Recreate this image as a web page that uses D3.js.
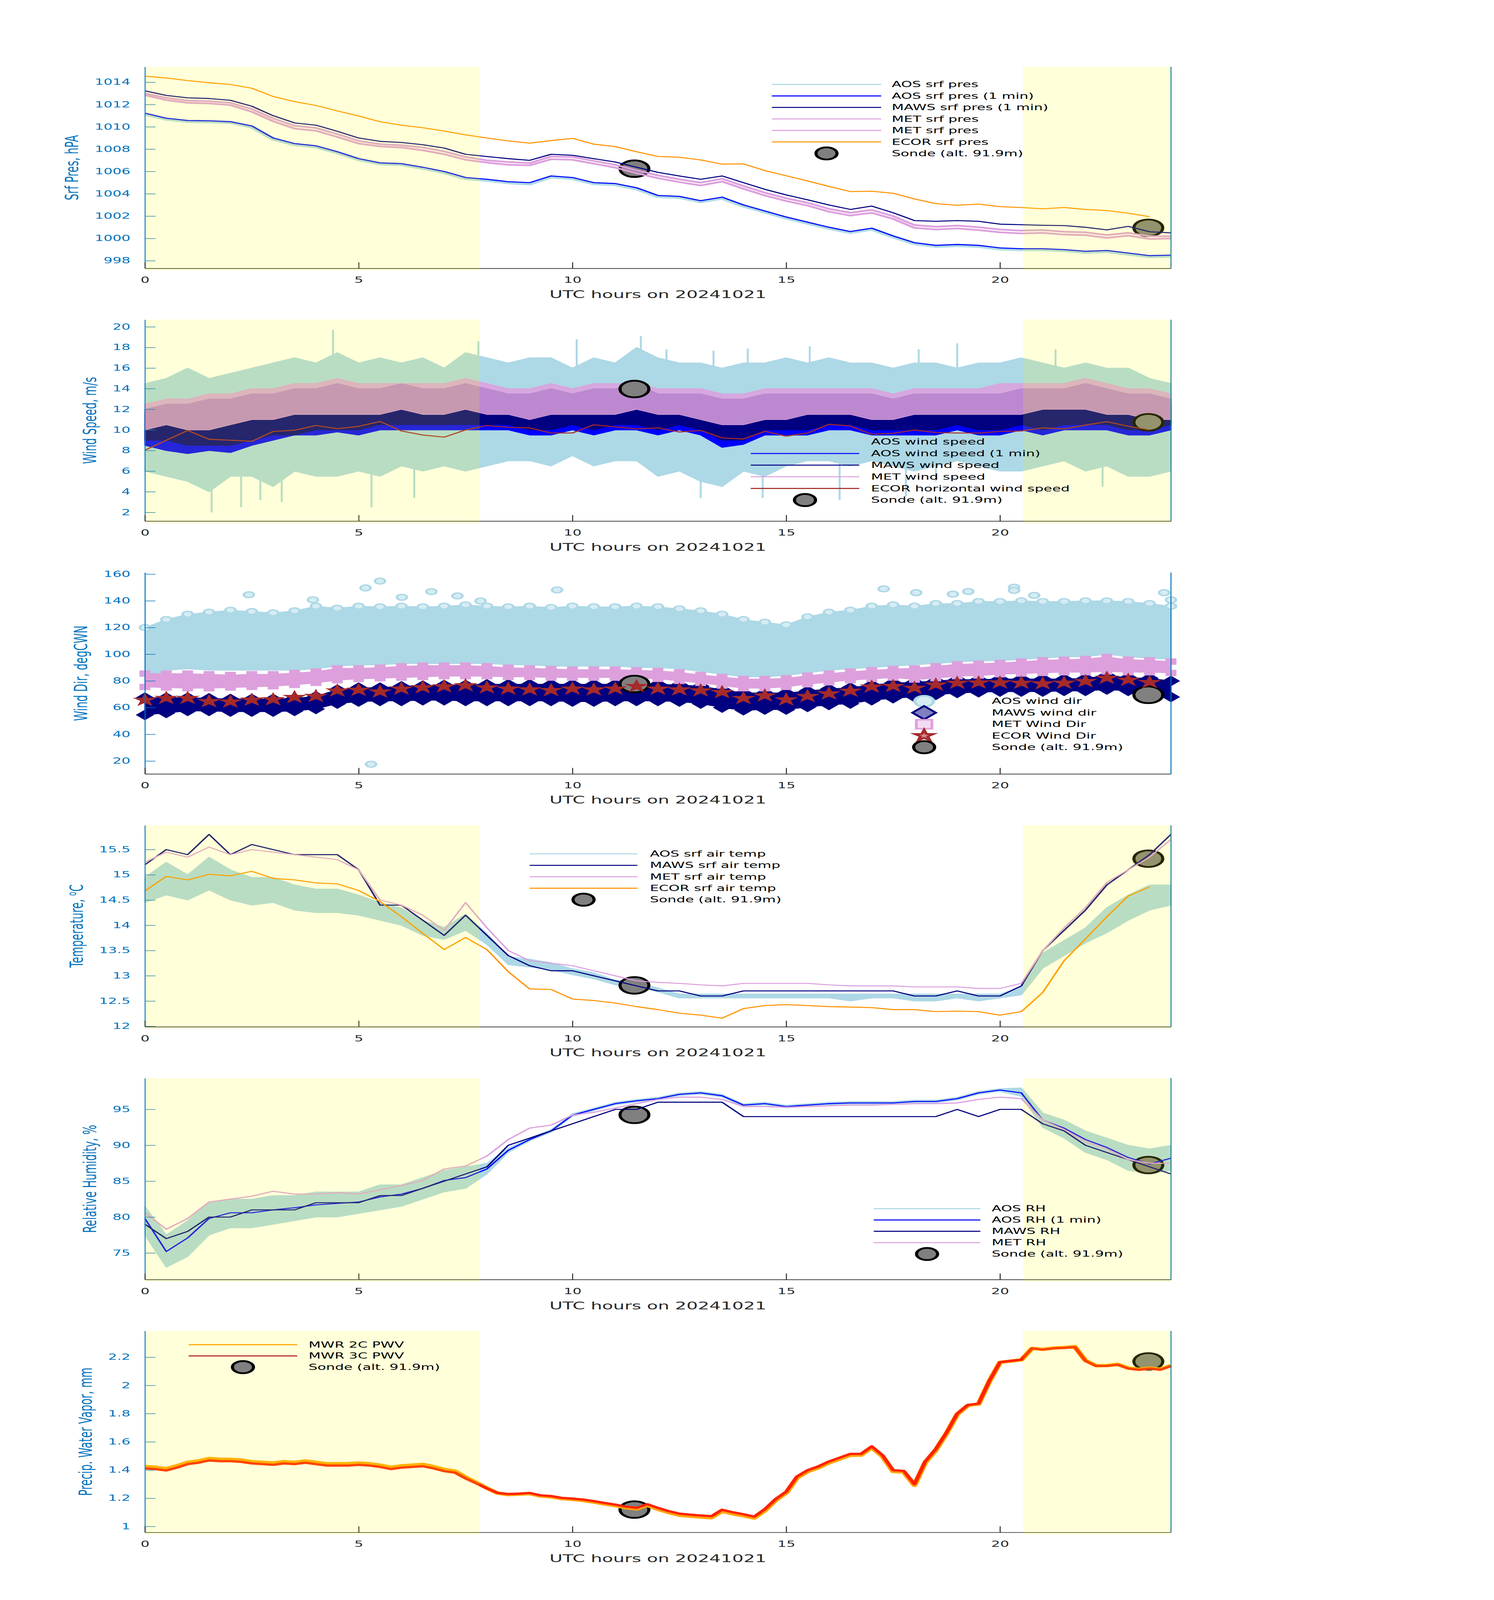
<!DOCTYPE html>
<html>
<head>
<meta charset="utf-8">
<title>Surface met 20241021</title>
<script src="https://cdn.jsdelivr.net/npm/d3@7"></script>
<style>
  html, body { margin: 0; padding: 0; background: #ffffff; overflow: hidden; }
  svg { display: block; }
  text { font-family: "DejaVu Sans", sans-serif; }
</style>
</head>
<body>
<div id="chart"></div>
<script>
// time grid of the readings, UTC hours (half-hour steps)
var hours = [0,0.5,1,1.5,2,2.5,3,3.5,4,4.5,5,5.5,6,6.5,7,7.5,8,8.5,9,9.5,10,10.5,11,11.5,12,
             12.5,13,13.5,14,14.5,15,15.5,16,16.5,17,17.5,18,18.5,19,19.5,20,20.5,21,21.5,22,22.5,23,23.5,24];
// finer grid for the microwave radiometer (quarter-hour steps)
var quarterHours = [0,0.25,0.5,0.75,1,1.25,1.5,1.75,2,2.25,2.5,2.75,3,3.25,3.5,3.75,4,4.25,4.5,4.75,
  5,5.25,5.5,5.75,6,6.25,6.5,6.75,7,7.25,7.5,7.75,8,8.25,8.5,8.75,9,9.25,9.5,9.75,
  10,10.25,10.5,10.75,11,11.25,11.5,11.75,12,12.25,12.5,12.75,13,13.25,13.5,13.75,14,14.25,14.5,14.75,
  15,15.25,15.5,15.75,16,16.25,16.5,16.75,17,17.25,17.5,17.75,18,18.25,18.5,18.75,19,19.25,19.5,19.75,
  20,20.25,20.5,20.75,21,21.25,21.5,21.75,22,22.25,22.5,22.75,23,23.25,23.5,23.75,24];
var hourTicks = [0, 5, 10, 15, 20];
var shadeStart = [0, 20.54];
var shadeEnd = [7.83, 24];
var sondeHours = [11.45, 23.47];

// surface pressure, hPa
var presAos = [1011.15,1010.70,1010.50,1010.47,1010.40,1010.00,1008.92,1008.42,1008.22,1007.70,
  1007.08,1006.70,1006.63,1006.30,1005.92,1005.38,1005.22,1005.00,1004.90,1005.52,
  1005.38,1004.92,1004.84,1004.46,1003.77,1003.69,1003.30,1003.62,1002.92,1002.38,
  1001.84,1001.38,1000.92,1000.54,1000.84,1000.15,999.54,999.30,999.38,999.30,
  999.07,999.00,999.00,998.92,998.77,998.84,998.61,998.38,998.42];
var presAos1 = [1011.23,1010.77,1010.57,1010.54,1010.46,1010.08,1009.00,1008.50,1008.30,1007.77,
  1007.15,1006.77,1006.70,1006.38,1006.00,1005.46,1005.30,1005.08,1005.00,1005.60,
  1005.46,1005.00,1004.92,1004.54,1003.85,1003.77,1003.38,1003.70,1003.00,1002.46,
  1001.92,1001.46,1001.00,1000.62,1000.92,1000.23,999.62,999.38,999.46,999.38,
  999.15,999.08,999.08,999.00,998.85,998.92,998.69,998.46,998.50];
var presMaws = [1013.23,1012.82,1012.60,1012.54,1012.38,1011.85,1011.00,1010.35,1010.15,1009.60,
  1009.00,1008.70,1008.60,1008.40,1008.10,1007.54,1007.34,1007.15,1007.00,1007.54,
  1007.45,1007.15,1006.85,1006.38,1005.92,1005.60,1005.30,1005.60,1005.00,1004.40,
  1003.90,1003.46,1003.00,1002.60,1002.90,1002.30,1001.60,1001.54,1001.60,1001.54,
  1001.28,1001.23,1001.18,1001.15,1001.00,1000.77,1001.08,1000.60,1000.50];
var presMet = [1013.00,1012.60,1012.35,1012.30,1012.15,1011.60,1010.75,1010.10,1009.90,1009.35,
  1008.75,1008.45,1008.35,1008.15,1007.80,1007.30,1007.00,1006.85,1006.75,1007.35,
  1007.30,1006.95,1006.60,1006.10,1005.65,1005.30,1005.00,1005.35,1004.70,1004.10,
  1003.60,1003.20,1002.65,1002.30,1002.55,1002.00,1001.20,1001.05,1001.15,1001.00,
  1000.80,1000.70,1000.75,1000.60,1000.55,1000.30,1000.50,1000.20,1000.20];
var presMet2 = [1012.85,1012.40,1012.15,1012.10,1011.95,1011.35,1010.50,1009.85,1009.65,1009.10,
  1008.50,1008.25,1008.15,1007.90,1007.55,1007.05,1006.80,1006.60,1006.55,1007.10,
  1007.05,1006.70,1006.35,1005.85,1005.40,1005.05,1004.75,1005.10,1004.45,1003.85,
  1003.35,1002.95,1002.40,1002.05,1002.30,1001.75,1000.95,1000.80,1000.90,1000.75,
  1000.55,1000.45,1000.50,1000.35,1000.30,1000.05,1000.25,999.95,1000.00];
var presEcor = [1014.54,1014.38,1014.15,1013.95,1013.80,1013.46,1012.72,1012.26,1011.92,1011.43,
  1010.97,1010.46,1010.15,1009.92,1009.62,1009.28,1009.00,1008.74,1008.54,1008.77,
  1008.97,1008.45,1008.23,1007.77,1007.35,1007.28,1007.03,1006.66,1006.68,1006.08,
  1005.62,1005.15,1004.66,1004.20,1004.23,1004.05,1003.54,1003.12,1002.97,1003.08,
  1002.85,1002.77,1002.66,1002.77,1002.60,1002.50,1002.26,1001.95];
var sondePres = [1006.25, 1000.95];

// wind speed, m/s (noisy series kept as low / high envelopes)
var wsAosLo = [6.0,5.5,5.0,4.0,5.5,5.5,4.5,6.0,5.5,5.5, 6.0,5.5,6.5,6.0,6.5,6.0,6.5,7.0,7.0,6.5,
  7.5,6.5,7.0,7.0,5.5,6.0,5.0,4.5,6.0,5.5, 6.5,7.0,7.0,6.5,7.0,6.5,6.0,6.5,7.0,6.5,
  6.0,6.0,6.5,7.0,6.0,6.5,5.5,5.5,6.0];
var wsAosHi = [14.5,15.0,16.0,15.0,15.5,16.0,16.5,17.0,16.5,17.5, 16.5,17.0,16.5,17.0,16.0,17.5,17.0,16.5,17.0,17.0,
  16.0,17.0,16.5,18.0,17.0,16.5,16.5,16.0,16.5,16.5, 17.0,16.5,17.0,16.5,16.5,16.0,16.5,16.5,16.0,16.5,
  16.5,17.0,16.5,16.0,16.5,16.0,16.0,15.0,14.5];
var wsSpikeHours = [1.56,2.25,2.7,3.2,4.4,5.3,6.3,7.8,10.1,11.6,12.2,13.0,13.3,14.1,14.45,15.55,16.25,17.8,18.1,19.0,18.5,21.3,22.4];
var wsSpikeValues = [2.0,2.5,3.2,3.0,19.7,2.5,3.4,18.6,18.8,19.1,17.8,3.4,17.7,17.9,3.4,18.1,3.2,3.55,17.8,18.4,5.0,17.8,4.5];
var wsAos1Lo = [8.5,8.0,7.7,8.0,7.8,8.5,9.0,9.5,9.5,9.8, 9.5,10.0,10.0,10.0,10.0,10.0,10.0,10.0,9.5,9.5,
  10.0,9.5,10.0,10.0,9.5,10.0,9.5,8.3,8.6,9.5, 9.5,9.5,10.0,10.0,9.5,9.5,9.5,9.5,10.0,9.5,
  9.5,10.0,9.5,10.0,10.0,10.0,9.5,9.5,10.0];
var wsAos1Hi = [11.5,12.0,12.0,12.5,12.5,13.0,13.0,13.5,13.5,14.0, 13.5,13.5,14.0,13.5,13.5,14.0,13.5,13.0,13.0,13.5,
  13.0,13.5,13.5,14.0,13.0,13.0,13.0,12.5,12.5,13.0, 13.0,13.0,13.0,13.0,13.0,12.5,13.0,13.0,13.0,13.0,
  13.0,13.5,13.5,13.5,14.0,13.5,13.0,13.0,12.5];
var wsMawsLo = [9.0,9.0,8.5,8.5,8.5,9.0,9.5,9.5,10.0,10.0, 10.0,10.5,10.5,10.5,10.5,10.5,10.5,10.5,10.0,10.0,
  10.5,10.0,10.5,10.5,10.0,10.5,10.0,9.0,9.0,10.0, 10.0,10.0,10.5,10.5,10.0,10.0,10.0,10.0,10.5,10.0,
  10.0,10.5,10.0,10.5,10.5,10.5,10.0,10.0,10.5];
var wsMawsHi = [12.0,12.5,12.5,13.0,13.0,13.5,13.5,14.0,14.0,14.5, 14.0,14.0,14.5,14.0,14.0,14.5,14.0,13.5,13.5,14.0,
  13.5,14.0,14.0,14.5,13.5,13.5,13.5,13.0,13.0,13.5, 13.5,13.5,13.5,13.5,13.5,13.0,13.5,13.5,13.5,13.5,
  13.5,14.0,14.0,14.0,14.5,14.0,13.5,13.5,13.0];
var wsMetLo = [10.0,10.5,10.0,10.0,10.5,11.0,11.0,11.5,11.5,11.5, 11.5,11.5,12.0,11.5,11.5,12.0,11.5,11.5,11.0,11.5,
  11.5,11.5,11.5,12.0,11.5,11.5,11.0,10.5,10.5,11.0, 11.0,11.5,11.5,11.5,11.0,11.0,11.5,11.5,11.5,11.5,
  11.5,11.5,12.0,12.0,12.0,11.5,11.5,11.0,11.0];
var wsMetHi = [12.5,13.0,13.0,13.5,13.5,14.0,14.0,14.5,14.5,15.0, 14.5,14.5,14.5,14.5,14.5,15.0,14.5,14.0,14.0,14.5,
  14.0,14.5,14.5,14.5,14.0,14.0,14.0,13.5,13.5,14.0, 14.0,14.0,14.0,14.0,14.0,13.5,14.0,14.0,14.0,14.0,
  14.5,14.5,14.5,14.5,15.0,14.5,14.0,14.0,13.5];
var wsEcor = [8.03,9.0,9.95,9.1,9.0,8.9,9.85,9.97,10.43,10.13, 10.35,10.82,9.9,9.5,9.3,10.0,10.43,10.25,10.2,9.7,
  9.7,10.5,10.3,10.1,10.2,9.8,9.95,9.23,9.12,9.87, 9.4,9.7,10.55,10.38,9.58,9.67,9.99,9.75,9.7,9.7,
  9.85,9.9,10.2,10.1,10.47,10.8,10.36,10.0];
var sondeWs = [13.97, 10.74];

// wind direction, deg clockwise from north (dense scatter kept as low / high envelopes)
var wdAosLo = [80,88,89,88,88,88,88,88,89,91, 92,92,93,93,93,93,93,92,92,91, 91,91,91,90,90,89,87,85,83,83,
  84,86,88,89,90,91,92,93,94,95, 95,96,97,98,98,100,98,97,96];
var wdAosHi = [120,126,130,131.5,133,132,131,132.5,136,134.5, 136,135.5,136,135.5,136,137,136,135.5,136,135,
  136,135.5,135.5,136,135.5,134,132.5,130,126,124, 122,128,131.5,133,136,137,136,138,138,139.5,
  139.5,140,139.5,139.5,140,140,139.5,138,136];
var wdOutHours = [2.43,3.93,5.16,5.5,6.01,6.7,7.31,7.85,9.64,17.28,18.04,18.9,19.26,20.33,20.33,20.8,23.84,24.0,5.29];
var wdOutValues = [144.6,140.8,149.7,154.8,142.7,146.9,143.7,139.9,148.2,149,146.1,145,147,150.2,147.8,144.1,146.1,140.8,17.6];
var wdMawsLo = [54.5,56,57.5,57.5,57,57,57,57.5,59,63, 64.5,65,65,65.5,65.5,65,65,65,65,65,
  64.5,64.5,65,65,65,64.5,63,60,58,58.5, 58.5,60.5,62,63,65.5,67,68,69.5,71,71.5,
  72,72,72,72.5,72.5,73.5,72.5,71.5,68];
var wdMawsHi = [67.5,67.5,67.5,67,66.5,66.5,66.5,67,68.5,73.5, 75,75,76,76.5,77,77,77.5,77.5,77.5,77.5,
  77.5,77.5,77.5,78,77.5,77,76,73.5,71,71, 71,72.5,74,75,77,78.5,79,80,81,81,
  81.5,81.5,81.5,81.5,82,84,82.5,82,80];
var wdMetLo = [75.5,75,74.5,74.5,75,75.5,76,77,78.5,80.5, 81.5,82,82.5,83,83.5,83.5,83.5,83,83,82.5,
  82.5,82.5,82.5,82,81.5,80,78.5,76.5,74.5,74.5, 75.5,77.5,79,80.5,81.5,82.5,81,82,83.5,84,
  85,85.5,86,86.5,86.5,87,86.5,86.5,86];
var wdMetHi = [85.5,85.5,85.5,85,84.5,85,85,86,87,89.5, 89.5,90,91,91.5,91.5,91.5,91,90,89.5,89,
  88.5,88.5,88.5,88,87.5,86.5,84.5,83,81.5,81.5, 82,84,85.5,87,88,89,89.5,91,92.5,93,
  93.5,94.5,95.5,96,96.5,98,96,95.5,94.5];
var wdEcor = [65.7,67.1,67.1,64.7,64.4,65.8,66.1,67.8,68.6,72.7, 73.2,71.9,74.1,75.1,75.8,76.6,75.0,74.1,73.5,73.0,
  74.1,73.5,74.1,76.0,74.1,73.5,72.8,71.5,67.0,69.0, 66.0,68.5,70.5,72.5,75.6,76.1,74.7,77.1,78.5,78.7,
  78.7,78.5,78.0,78.5,79.7,82.2,80.7,79.0];
var sondeWd = [77.7, 69.6];

// air temperature, deg C
var tAosLo = [14.45,14.6,14.5,14.7,14.5,14.4,14.45,14.3,14.25,14.25, 14.2,14.1,14.0,13.8,13.72,13.9,13.62,13.22,13.17,13.12,
  13.02,12.94,12.82,12.77,12.68,12.56,12.56,12.56,12.56,12.56, 12.56,12.56,12.56,12.5,12.56,12.56,12.5,12.5,12.56,12.5,
  12.56,12.62,13.15,13.4,13.65,13.85,14.1,14.3,14.4];
var tAosHi = [14.95,15.25,15.0,15.35,15.1,14.95,14.95,14.8,14.72,14.72, 14.6,14.45,14.34,14.1,13.96,14.22,13.84,13.38,13.33,13.26,
  13.14,13.06,12.92,12.87,12.76,12.64,12.64,12.64,12.64,12.64, 12.64,12.64,12.64,12.64,12.64,12.64,12.64,12.64,12.64,12.64,
  12.64,12.78,13.45,13.7,13.95,14.35,14.6,14.8,14.8];
var tMaws = [15.2,15.5,15.4,15.8,15.4,15.6,15.5,15.4,15.4,15.4, 15.1,14.4,14.4,14.1,13.8,14.2,13.8,13.4,13.2,13.1,
  13.1,13.0,12.9,12.8,12.7,12.7,12.6,12.6,12.7,12.7, 12.7,12.7,12.7,12.7,12.7,12.7,12.6,12.6,12.7,12.6,
  12.6,12.8,13.5,13.9,14.3,14.8,15.1,15.4,15.8];
var tMet = [15.25,15.45,15.35,15.55,15.4,15.5,15.45,15.4,15.35,15.3, 15.1,14.5,14.4,14.2,13.9,14.45,13.95,13.5,13.3,13.25,
  13.2,13.1,13.0,12.9,12.87,12.85,12.82,12.8,12.85,12.85, 12.85,12.85,12.82,12.8,12.8,12.8,12.78,12.78,12.78,12.75,
  12.75,12.85,13.5,13.95,14.35,14.85,15.1,15.35,15.7];
var tEcor = [14.68,14.97,14.90,15.01,14.98,15.07,14.93,14.90,14.84,14.82, 14.69,14.47,14.17,13.84,13.52,13.76,13.52,13.08,12.74,12.73,
  12.54,12.51,12.46,12.39,12.33,12.26,12.22,12.16,12.35,12.41, 12.43,12.41,12.39,12.38,12.37,12.33,12.33,12.29,12.30,12.29,
  12.22,12.29,12.67,13.30,13.73,14.17,14.58,14.76];
var sondeTemp = [12.81, 15.32];

// relative humidity, %
var rhAosLo = [77.5,73.0,74.5,77.5,78.5,78.5,79.0,79.5,80.0,80.0, 80.5,81.0,81.5,82.5,83.5,84.0,86.0,89.0,90.6,91.8,
  94.0,94.8,95.6,96.0,96.3,96.9,97.1,96.7,95.4,95.6, 95.2,95.4,95.6,95.7,95.7,95.7,95.9,95.9,96.3,97.1,
  97.5,96.8,92.5,91.0,89.0,88.0,86.5,86.0,86.5];
var rhAosHi = [81.5,77.5,79.5,82.0,82.5,82.5,83.0,83.0,83.5,83.5, 83.5,84.5,84.5,85.5,86.5,87.0,87.5,89.6,91.0,92.2,
  94.4,95.2,96.0,96.4,96.7,97.3,97.5,97.1,95.8,96.0, 95.6,95.8,96.0,96.1,96.1,96.1,96.3,96.3,96.7,97.5,
  97.9,98.0,94.5,93.5,92.0,91.0,90.0,89.5,90.0];
var rhAos1 = [79.8,75.2,77.1,79.8,80.6,80.6,81.0,81.3,81.7,81.9, 82.1,82.8,83.2,84.0,85.1,85.5,86.7,89.3,90.8,92.0,
  94.2,95.0,95.8,96.2,96.5,97.1,97.3,96.9,95.6,95.8, 95.4,95.6,95.8,95.9,95.9,95.9,96.1,96.1,96.5,97.3,
  97.7,97.3,93.5,92.4,90.8,89.7,88.3,87.4,88.2];
var rhMaws = [79,77,78,80,80,81,81,81,82,82, 82,83,83,84,85,86,87,90,91,92,
  93,94,95,95,96,96,96,96,94,94, 94,94,94,94,94,94,94,94,95,94,
  95,95,93,92,90,89,88,87,86];
var rhMet = [80.6,78.3,79.8,82.1,82.5,82.9,83.6,83.2,83.2,83.4, 83.2,83.8,84.4,85.1,86.7,87.1,88.5,90.8,92.4,92.8,
  94.2,94.6,95.2,95.8,96.4,96.7,96.7,96.4,95.4,95.4, 95.3,95.4,95.5,95.6,95.6,95.7,95.8,95.8,95.9,96.4,
  96.7,96.5,93.5,92.2,90.5,89.5,88.0,87.5,87.5];
var sondeRh = [94.24, 87.25];

// precipitable water vapour, mm (quarter-hour grid)
var pwv2c = [1.425,1.420,1.410,1.430,1.455,1.465,1.482,1.477,1.476,1.471,1.460,1.455,
  1.450,1.460,1.455,1.465,1.455,1.445,1.445,1.446,1.450,1.445,1.435,1.420,
  1.430,1.435,1.440,1.425,1.405,1.393,1.350,1.312,1.272,1.236,1.226,1.229,
  1.233,1.216,1.210,1.197,1.192,1.184,1.173,1.160,1.148,1.133,1.124,1.150,
  1.122,1.099,1.080,1.073,1.067,1.062,1.108,1.090,1.076,1.060,1.112,1.185,
  1.238,1.344,1.389,1.416,1.451,1.478,1.505,1.506,1.560,1.498,1.390,1.386,
  1.292,1.452,1.542,1.660,1.795,1.858,1.868,2.028,2.163,2.172,2.181,2.262,
  2.256,2.265,2.269,2.275,2.177,2.140,2.141,2.150,2.123,2.114,2.123,2.115,
  2.141];
var pwv3c = [1.412,1.407,1.397,1.417,1.442,1.452,1.468,1.463,1.463,1.458,1.447,1.442,
  1.437,1.447,1.442,1.452,1.442,1.432,1.432,1.432,1.437,1.432,1.422,1.407,
  1.417,1.422,1.427,1.412,1.392,1.382,1.341,1.306,1.270,1.238,1.230,1.233,
  1.238,1.221,1.216,1.203,1.198,1.191,1.180,1.167,1.155,1.141,1.132,1.158,
  1.132,1.109,1.091,1.084,1.078,1.073,1.119,1.101,1.087,1.070,1.123,1.194,
  1.247,1.354,1.399,1.426,1.461,1.488,1.515,1.515,1.568,1.506,1.399,1.394,
  1.300,1.461,1.550,1.666,1.800,1.862,1.871,2.031,2.165,2.174,2.183,2.263,
  2.254,2.263,2.266,2.272,2.174,2.138,2.138,2.147,2.120,2.111,2.120,2.111,
  2.138];
var sondePwv = [1.12, 2.17];

// y ticks, limits and texts
var presTicks = [998,1000,1002,1004,1006,1008,1010,1012,1014];
var wsTicks = [2,4,6,8,10,12,14,16,18,20];
var wdTicks = [20,40,60,80,100,120,140,160];
var tempTicks = [12,12.5,13,13.5,14,14.5,15,15.5];
var rhTicks = [75,80,85,90,95];
var pwvTicks = [1,1.2,1.4,1.6,1.8,2,2.2];
var presLimits = [997.32, 1015.37];
var wsLimits = [1.15, 20.69];
var wdLimits = [10.3, 161.2];
var tempLimits = [11.99, 15.98];
var rhLimits = [71.29, 99.35];
var pwvLimits = [0.958, 2.386];

var xTitle = "UTC hours on 20241021";
var presLabels = ["AOS srf pres","AOS srf pres (1 min)","MAWS srf pres (1 min)","MET srf pres","MET srf pres","ECOR srf pres","Sonde (alt. 91.9m)"];
var wsLabels = ["AOS wind speed","AOS wind speed (1 min)","MAWS wind speed","MET wind speed","ECOR horizontal wind speed","Sonde (alt. 91.9m)"];
var wdLabels = ["AOS wind dir","MAWS wind dir","MET Wind Dir","ECOR Wind Dir","Sonde (alt. 91.9m)"];
var tempLabels = ["AOS srf air temp","MAWS srf air temp","MET srf air temp","ECOR srf air temp","Sonde (alt. 91.9m)"];
var rhLabels = ["AOS RH","AOS RH (1 min)","MAWS RH","MET RH","Sonde (alt. 91.9m)"];
var pwvLabels = ["MWR 2C PWV","MWR 3C PWV","Sonde (alt. 91.9m)"];

// colours
var cAos = "#add8e6", cAos1 = "#0000ff", cMaws = "#000080", cMet = "#dda0dd",
    cEcor = "#ff9200", cEcorWs = "#a52a2a", cMwr2 = "#ffa500", cMwr3 = "#ff2200",
    cMwr3Key = "#b22222", cAxis = "#0072bd", cText = "#262626";

// the figure is laid out on a 3825 x 7125 canvas; the browser window may be
// shorter, so the canvas is fitted to the window height through the viewBox
var figW = 3825, figH = 7125;
var shownH = Math.min(figH, window.innerHeight || figH);

var margin = {left: 371, top: 298},
    width = 2627,
    panelHeight = 897,
    panelStep = 1125.8;

var svg = d3.select("#chart")
  .append("svg")
    .attr("width", figW)
    .attr("height", shownH)
    .attr("viewBox", "0 0 " + figW + " " + figH)
    .attr("preserveAspectRatio", "none");

svg.append("rect").attr("width", figW).attr("height", figH).attr("fill", "#ffffff");

var xScale = d3.scaleLinear().domain([0, 24]).range([0, width]);

var diamond = {
  draw: function(ctx, size) {
    var r = Math.sqrt(size) / 2;
    ctx.moveTo(0, -r); ctx.lineTo(r, 0); ctx.lineTo(0, r); ctx.lineTo(-r, 0); ctx.closePath();
  }
};

// layer builders: each returns a function drawing into (g, yScale)
function lineLayer(vals, color, w, times) {
  var tt = times || hours;
  return function(g, y) {
    g.append("path").datum(vals)
      .attr("fill", "none")
      .attr("stroke", color)
      .attr("stroke-width", w)
      .attr("stroke-linejoin", "round")
      .attr("d", d3.line()
        .x(function(d, i) { return xScale(tt[i]); })
        .y(function(d) { return y(d); }));
  };
}

function bandLayer(lo, hi, color, op) {
  return function(g, y) {
    g.append("path").datum(lo)
      .attr("fill", color)
      .attr("fill-opacity", op)
      .attr("stroke", color)
      .attr("stroke-opacity", op)
      .attr("stroke-width", 3)
      .attr("stroke-linejoin", "round")
      .attr("d", d3.area()
        .x(function(d, i) { return xScale(hours[i]); })
        .y0(function(d) { return y(d); })
        .y1(function(d, i) { return y(hi[i]); }));
  };
}

function markLayer(times, vals, type, size, fill, stroke, sw) {
  return function(g, y) {
    g.append("g").selectAll("path")
      .data(vals)
      .join("path")
        .attr("transform", function(d, i) { return "translate(" + xScale(times[i]) + "," + y(d) + ")"; })
        .attr("d", d3.symbol().type(type).size(size))
        .attr("fill", fill)
        .attr("stroke", stroke)
        .attr("stroke-width", sw);
  };
}

function spikeLayer(times, vals, base, color, w) {
  return function(g, y) {
    g.append("g").selectAll("line")
      .data(vals)
      .join("line")
        .attr("x1", function(d, i) { return xScale(times[i]); })
        .attr("x2", function(d, i) { return xScale(times[i]); })
        .attr("y1", y(base))
        .attr("y2", function(d) { return y(d); })
        .attr("stroke", color)
        .attr("stroke-width", w);
  };
}

function sondeLayer(vals) {
  return markLayer(sondeHours, vals, d3.symbolCircle, Math.PI * 37 * 37, "#808080", "#000000", 8);
}

var panels = [
  {
    limits: presLimits, ticks: presTicks, title: [["Srf Pres, hPA"]], shade: true,
    layers: [
      lineLayer(presAos, cAos, 14),
      sondeLayer(sondePres),
      lineLayer(presAos1, cAos1, 4.5),
      lineLayer(presMaws, cMaws, 4.5),
      lineLayer(presMet, cMet, 8),
      lineLayer(presMet2, cMet, 8),
      lineLayer(presEcor, cEcor, 4.5)
    ],
    legend: {x: 1605, y: 78, dy: 51.2, len: 280, textX: 1912, labels: presLabels,
      keys: [["line", cAos], ["line", cAos1], ["line", cMaws], ["line", cMet], ["line", cMet], ["line", cEcor], ["sonde"]]}
  },
  {
    limits: wsLimits, ticks: wsTicks, title: [["Wind Speed, m/s"]], shade: true,
    layers: [
      bandLayer(wsAosLo, wsAosHi, cAos, 1),
      spikeLayer(wsSpikeHours, wsSpikeValues, 11, cAos, 5),
      bandLayer(wsAos1Lo, wsAos1Hi, cAos1, 1),
      bandLayer(wsMawsLo, wsMawsHi, cMaws, 1),
      bandLayer(wsMetLo, wsMetHi, cMet, 0.85),
      sondeLayer(sondeWs),
      lineLayer(wsEcor, cEcorWs, 4.5)
    ],
    legend: {x: 1551, y: 544, dy: 51.8, len: 278, textX: 1859, labels: wsLabels,
      keys: [["line", cAos], ["line", cAos1], ["line", cMaws], ["line", cMet], ["line", cEcorWs], ["sonde"]]}
  },
  {
    limits: wdLimits, ticks: wdTicks, title: [["Wind Dir, degCWN"]], shade: false,
    layers: [
      bandLayer(wdAosLo, wdAosHi, cAos, 1),
      markLayer(hours, wdAosHi, d3.symbolCircle, Math.PI * 13 * 13, "#d6ecf3", cAos, 6),
      markLayer(wdOutHours, wdOutValues, d3.symbolCircle, Math.PI * 13 * 13, "#d6ecf3", cAos, 6),
      bandLayer(wdMawsLo, wdMawsHi, cMaws, 1),
      markLayer(hours, wdMawsLo, diamond, 44 * 44, cMaws, cMaws, 2),
      markLayer(hours, wdMawsHi, diamond, 44 * 44, cMaws, cMaws, 2),
      bandLayer(wdMetLo, wdMetHi, cMet, 1),
      markLayer(hours, wdMetLo, d3.symbolSquare, 26 * 26, cMet, cMet, 2),
      markLayer(hours, wdMetHi, d3.symbolSquare, 26 * 26, cMet, cMet, 2),
      sondeLayer(sondeWd),
      markLayer(hours, wdEcor, d3.symbolStar, 33 * 33 / 0.8908, cEcorWs, "none", 0)
    ],
    legend: {markX: 1995, y: 573, dy: 51.2, textX: 2168, labels: wdLabels,
      keys: [["circle"], ["diamond"], ["square"], ["star"], ["sonde"]]}
  },
  {
    limits: tempLimits, ticks: tempTicks, title: [["Temperature, "], ["o", "sup"], ["C"]], shade: true,
    layers: [
      bandLayer(tAosLo, tAosHi, cAos, 1),
      sondeLayer(sondeTemp),
      lineLayer(tMaws, cMaws, 4.5),
      lineLayer(tMet, cMet, 4.5),
      lineLayer(tEcor, cEcor, 4.5)
    ],
    legend: {x: 985, y: 127, dy: 51, len: 276, textX: 1293, labels: tempLabels,
      keys: [["line", cAos], ["line", cMaws], ["line", cMet], ["line", cEcor], ["sonde"]]}
  },
  {
    limits: rhLimits, ticks: rhTicks, title: [["Relative Humidity, %"]], shade: true,
    layers: [
      bandLayer(rhAosLo, rhAosHi, cAos, 1),
      sondeLayer(sondeRh),
      lineLayer(rhAos1, cAos1, 4.5),
      lineLayer(rhMaws, cMaws, 4.5),
      lineLayer(rhMet, cMet, 5)
    ],
    legend: {x: 1866, y: 581, dy: 50.5, len: 273, textX: 2168, labels: rhLabels,
      keys: [["line", cAos], ["line", cAos1], ["line", cMaws], ["line", cMet], ["sonde"]]}
  },
  {
    limits: pwvLimits, ticks: pwvTicks, title: [["Precip. Water Vapor, mm"]], shade: true,
    layers: [
      sondeLayer(sondePwv),
      lineLayer(pwv2c, cMwr2, 15, quarterHours),
      lineLayer(pwv3c, cMwr3, 10, quarterHours)
    ],
    legend: {x: 112, y: 61, dy: 50, len: 278, textX: 419, labels: pwvLabels,
      keys: [["line", cMwr2], ["line", cMwr3Key], ["sonde"]]}
  }
];

function drawLegend(g, lg) {
  lg.labels.forEach(function(label, i) {
    var cy = lg.y + i * lg.dy;
    var key = lg.keys[i];
    var mx = lg.markX !== undefined ? lg.markX : lg.x + lg.len / 2;
    var sym = function(type, size) {
      return g.append("path")
        .attr("transform", "translate(" + mx + "," + cy + ")")
        .attr("d", d3.symbol().type(type).size(size));
    };
    if (key[0] === "line") {
      g.append("line")
        .attr("x1", lg.x).attr("x2", lg.x + lg.len)
        .attr("y1", cy).attr("y2", cy)
        .attr("stroke", key[1]).attr("stroke-width", 4.5);
    } else if (key[0] === "circle") {
      sym(d3.symbolCircle, Math.PI * 24 * 24).attr("fill", "#d6ecf3").attr("stroke", cAos).attr("stroke-width", 8);
    } else if (key[0] === "diamond") {
      sym(diamond, 60 * 60).attr("fill", "#8080c0").attr("stroke", cMaws).attr("stroke-width", 7);
    } else if (key[0] === "square") {
      sym(d3.symbolSquare, 40 * 40).attr("fill", "#f2dcf2").attr("stroke", cMet).attr("stroke-width", 7);
    } else if (key[0] === "star") {
      sym(d3.symbolStar, 38 * 38 / 0.8908).attr("fill", cEcorWs);
      sym(d3.symbolStar, 13 * 13 / 0.8908).attr("fill", "#d98c8c");
    } else {
      sym(d3.symbolCircle, Math.PI * 27 * 27).attr("fill", "#808080").attr("stroke", "#000000").attr("stroke-width", 8);
    }
    g.append("text")
      .attr("x", lg.textX).attr("y", cy).attr("dy", "0.35em")
      .attr("font-size", 36).attr("fill", "#000000")
      .text(label);
  });
}

const drawPanel = function(p, idx) {
  var g = svg.append("g")
    .attr("transform", "translate(" + margin.left + "," + (margin.top + idx * panelStep) + ")");
  var yScale = d3.scaleLinear().domain(p.limits).range([panelHeight, 0]);

  p.layers.forEach(function(layer) { layer(g, yScale); });

  // axes: ticks point inwards, left axis blue, bottom axis dark grey
  var yAxis = g.append("g")
    .call(d3.axisLeft(yScale).tickValues(p.ticks).tickSizeInner(-27).tickSizeOuter(0).tickPadding(37)
      .tickFormat(function(d) { return String(d); }));
  yAxis.attr("font-size", 36).attr("font-family", "DejaVu Sans, sans-serif");
  yAxis.select(".domain").attr("stroke", cAxis).attr("stroke-width", 2.5);
  yAxis.selectAll(".tick line").attr("stroke", cAxis).attr("stroke-width", 2.5);
  yAxis.selectAll(".tick text").attr("fill", cAxis);

  var xAxis = g.append("g")
    .attr("transform", "translate(0," + panelHeight + ")")
    .call(d3.axisBottom(xScale).tickValues(hourTicks).tickSizeInner(-27).tickSizeOuter(0).tickPadding(39));
  xAxis.attr("font-size", 36).attr("font-family", "DejaVu Sans, sans-serif");
  xAxis.select(".domain").attr("stroke", cText).attr("stroke-width", 3);
  xAxis.selectAll(".tick line").attr("stroke", cText).attr("stroke-width", 2.5);
  xAxis.selectAll(".tick text").attr("fill", cText);

  g.append("line")
    .attr("x1", width).attr("x2", width)
    .attr("y1", 0).attr("y2", panelHeight)
    .attr("stroke", cAxis).attr("stroke-width", 2.5);

  // night-time shading sits over the data
  if (p.shade) {
    g.append("g").selectAll("rect")
      .data(shadeStart)
      .join("rect")
        .attr("x", function(d) { return xScale(d); })
        .attr("width", function(d, i) { return xScale(shadeEnd[i]) - xScale(d); })
        .attr("y", 0)
        .attr("height", panelHeight + 9)
        .attr("fill", "#ffff00")
        .attr("fill-opacity", 0.15);
  }

  // axis titles
  var maxW = d3.max(yAxis.selectAll(".tick text").nodes(), function(n) { return n.getBBox().width; });
  var yt = g.append("text")
    .attr("transform", "translate(" + (-37 - maxW - 42) + "," + (panelHeight / 2) + ") rotate(-90)")
    .attr("text-anchor", "middle")
    .attr("font-size", 46)
    .attr("fill", cAxis);
  p.title.forEach(function(part, k) {
    var ts = yt.append("tspan").text(part[0]);
    if (part[1] === "sup") ts.attr("font-size", 30).attr("dy", -17);
    else if (k > 0) ts.attr("dy", 17);
  });

  g.append("text")
    .attr("x", width / 2)
    .attr("y", panelHeight + 132)
    .attr("text-anchor", "middle")
    .attr("font-size", 46)
    .attr("fill", cText)
    .text(xTitle);

  drawLegend(g, p.legend);
};

panels.forEach(drawPanel);
</script>
</body>
</html>
